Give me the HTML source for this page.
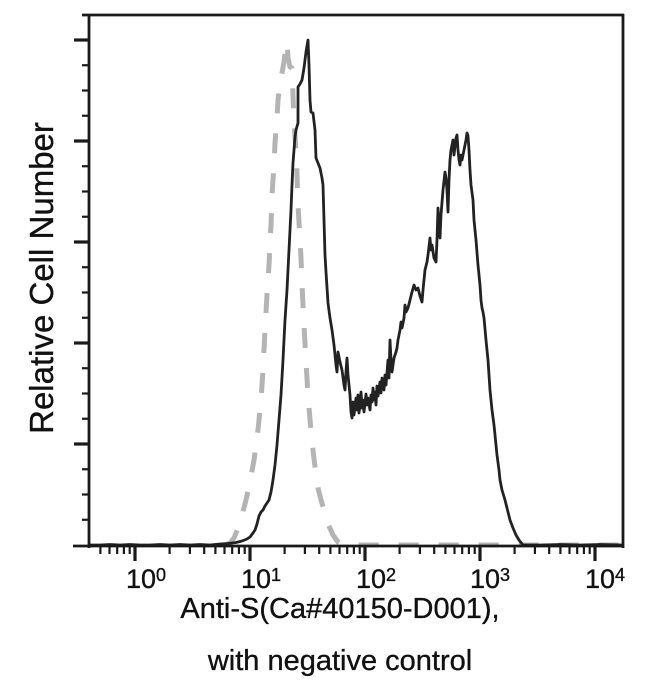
<!DOCTYPE html>
<html>
<head>
<meta charset="utf-8">
<style>
html,body{margin:0;padding:0;background:#fff;}
svg{display:block;}
text{font-family:"Liberation Sans",Arial,sans-serif;fill:#111;stroke:#111;stroke-width:0.35;}
</style>
</head>
<body>
<svg width="650" height="680" viewBox="0 0 650 680" xmlns="http://www.w3.org/2000/svg">
<rect x="0" y="0" width="650" height="680" fill="#fff"/>

<!-- gray dashed negative control -->
<path fill="none" stroke="#b4b4b4" stroke-width="5" stroke-dasharray="20 20" stroke-linejoin="round"
d="M225,545 L230,543 L234,538 L238,528 L242,515 L246,500 L250,482 L254,460 L258,430 L261,400 L263,370 L265,330 L267,295 L269,265 L271,225 L272,195 L274,165 L275,143 L277,118 L278,100 L280,85 L282,73 L284,62 L286,45 L287,42 L288,58 L290,67 L292,68 L293,95 L294,122 L296,150 L297,175 L298,205 L300,240 L301,258 L302,285 L304,325 L306,362 L308,395 L310,420 L313,450 L316,475 L318,488 L321,500 L324,510 L328,524 L333,535 L338,542 L344,545 L622,545"/>

<!-- black sample histogram -->
<path fill="none" stroke="#222" stroke-width="2.8" stroke-linejoin="round"
d="M90,545 L100,545 L110,544.5 L120,545 L130,544.5 L140,545 L150,545 L160,544.5 L170,545 L180,544.5 L190,545 L200,544.5 L210,545 L220,544 L228,543.5 L236,542.5 L242,541 L247,539 L250,537 L253,533 L255,530 L257,524 L259,516 L261,512 L263,510 L265,506 L267,503 L269,500 L271,492 L273,480 L275,465 L277,445 L279,420 L281,395 L283,360 L285,320 L287,290 L289,250 L291,210 L292,185 L293,163 L294,150 L295,137 L296,130 L298,123 L298,105 L298,87 L300,84 L302,80 L304,68 L306,52 L308,40 L309,65 L310,100 L311,112 L313,113 L315,130 L316,158 L318,163 L320,168 L322,178 L323,185 L324,220 L325,255 L326,272 L328,303
L330,318 L332,330 L334,345 L336,365 L337,372 L338,352 L340,362 L342,370 L344,385 L345,390 L346,372 L347,358 L348,375 L350,395 L351,412 L352,418 L353,402 L354,415 L356,398 L357,410 L358,395 L359,413 L360,405 L361,392 L362,408 L363,400 L364,412 L366,394 L367,405 L368,398 L370,410 L371,395 L372,402 L373,388 L374,400 L375,392 L376,405 L377,386 L378,396 L380,382 L381,393 L382,378 L384,390 L385,375 L386,385 L388,360 L389,378 L390,340 L391,360 L392,372 L394,358 L396,352 L397,348 L398,340 L400,330 L401,322 L402,328 L404,318 L405,305 L406,312 L408,308 L410,300 L412,292 L414,285 L416,290 L418,288 L420,296 L422,302 L423,290 L425,270 L427,262 L428,255 L430,238 L431,250 L432,245 L434,258 L436,262 L437,240 L438,208 L439,228 L440,238 L441,215 L443,190 L445,172 L446,178 L447,190 L448,212 L449,180 L450,160 L451,150 L452,145 L453,140 L454,155 L456,138 L457,135 L458,150 L459,160 L460,165 L461,155 L462,160 L464,150 L466,140 L467,133 L468,136 L469,150 L470,170 L471,185 L473,200 L474,220 L475,230 L476,240 L478,265 L480,285 L481,300 L482,308 L483,312 L484,318 L486,340 L488,360 L490,390 L492,410 L494,425 L495,435 L497,455 L499,470 L500,480 L502,490 L505,500 L508,512 L510,520 L513,528 L516,535 L519,540 L523,545 L540,545 L560,544.5 L580,545 L600,544.5 L622,545"/>

<!-- frame -->
<g stroke="#1a1a1a" stroke-width="2.8" fill="none">
<line x1="82" y1="15" x2="624" y2="15"/>
<line x1="89" y1="14" x2="89" y2="548"/>
<line x1="623" y1="14" x2="623" y2="548"/>
<line x1="73" y1="546" x2="624" y2="546"/>
</g>

<!-- y ticks -->
<g stroke="#1a1a1a" stroke-width="3.2">
<line x1="74" y1="40" x2="89" y2="40"/>
<line x1="74" y1="141" x2="89" y2="141"/>
<line x1="74" y1="242" x2="89" y2="242"/>
<line x1="74" y1="343" x2="89" y2="343"/>
<line x1="74" y1="444" x2="89" y2="444"/>
</g>
<g stroke="#1a1a1a" stroke-width="2.2">
<line x1="82" y1="65.25" x2="89" y2="65.25"/>
<line x1="82" y1="90.5" x2="89" y2="90.5"/>
<line x1="82" y1="115.75" x2="89" y2="115.75"/>
<line x1="82" y1="166.25" x2="89" y2="166.25"/>
<line x1="82" y1="191.5" x2="89" y2="191.5"/>
<line x1="82" y1="216.75" x2="89" y2="216.75"/>
<line x1="82" y1="267.25" x2="89" y2="267.25"/>
<line x1="82" y1="292.5" x2="89" y2="292.5"/>
<line x1="82" y1="317.75" x2="89" y2="317.75"/>
<line x1="82" y1="368.25" x2="89" y2="368.25"/>
<line x1="82" y1="393.5" x2="89" y2="393.5"/>
<line x1="82" y1="418.75" x2="89" y2="418.75"/>
<line x1="82" y1="469.25" x2="89" y2="469.25"/>
<line x1="82" y1="494.5" x2="89" y2="494.5"/>
<line x1="82" y1="519.75" x2="89" y2="519.75"/>
</g>

<!-- x ticks -->
<g stroke="#1a1a1a" stroke-width="3.2">
<line x1="135" y1="547" x2="135" y2="561"/>
<line x1="250" y1="547" x2="250" y2="561"/>
<line x1="365" y1="547" x2="365" y2="561"/>
<line x1="480" y1="547" x2="480" y2="561"/>
<line x1="595" y1="547" x2="595" y2="561"/>
</g>
<g stroke="#1a1a1a" stroke-width="2.2">
<line x1="100.4" y1="547" x2="100.4" y2="554"/>
<line x1="109.5" y1="547" x2="109.5" y2="554"/>
<line x1="117.2" y1="547" x2="117.2" y2="554"/>
<line x1="123.9" y1="547" x2="123.9" y2="554"/>
<line x1="129.7" y1="547" x2="129.7" y2="554"/>

<line x1="169.6" y1="547" x2="169.6" y2="554"/>
<line x1="189.9" y1="547" x2="189.9" y2="554"/>
<line x1="204.2" y1="547" x2="204.2" y2="554"/>
<line x1="215.4" y1="547" x2="215.4" y2="554"/>
<line x1="224.5" y1="547" x2="224.5" y2="554"/>
<line x1="232.2" y1="547" x2="232.2" y2="554"/>
<line x1="238.9" y1="547" x2="238.9" y2="554"/>
<line x1="244.7" y1="547" x2="244.7" y2="554"/>

<line x1="284.6" y1="547" x2="284.6" y2="554"/>
<line x1="304.9" y1="547" x2="304.9" y2="554"/>
<line x1="319.2" y1="547" x2="319.2" y2="554"/>
<line x1="330.4" y1="547" x2="330.4" y2="554"/>
<line x1="339.5" y1="547" x2="339.5" y2="554"/>
<line x1="347.2" y1="547" x2="347.2" y2="554"/>
<line x1="353.9" y1="547" x2="353.9" y2="554"/>
<line x1="359.7" y1="547" x2="359.7" y2="554"/>

<line x1="399.6" y1="547" x2="399.6" y2="554"/>
<line x1="419.9" y1="547" x2="419.9" y2="554"/>
<line x1="434.2" y1="547" x2="434.2" y2="554"/>
<line x1="445.4" y1="547" x2="445.4" y2="554"/>
<line x1="454.5" y1="547" x2="454.5" y2="554"/>
<line x1="462.2" y1="547" x2="462.2" y2="554"/>
<line x1="468.9" y1="547" x2="468.9" y2="554"/>
<line x1="474.7" y1="547" x2="474.7" y2="554"/>

<line x1="514.6" y1="547" x2="514.6" y2="554"/>
<line x1="534.9" y1="547" x2="534.9" y2="554"/>
<line x1="549.2" y1="547" x2="549.2" y2="554"/>
<line x1="560.4" y1="547" x2="560.4" y2="554"/>
<line x1="569.5" y1="547" x2="569.5" y2="554"/>
<line x1="577.2" y1="547" x2="577.2" y2="554"/>
<line x1="583.9" y1="547" x2="583.9" y2="554"/>
<line x1="589.7" y1="547" x2="589.7" y2="554"/>
</g>

<!-- x tick labels -->
<g font-size="27">
<text x="126" y="588">10<tspan font-size="18" dy="-7">0</tspan></text>
<text x="241" y="588">10<tspan font-size="18" dy="-7">1</tspan></text>
<text x="356" y="588">10<tspan font-size="18" dy="-7">2</tspan></text>
<text x="470" y="588">10<tspan font-size="18" dy="-7">3</tspan></text>
<text x="585" y="588">10<tspan font-size="18" dy="-7">4</tspan></text>
</g>

<!-- axis titles -->
<text x="340" y="618" font-size="29" text-anchor="middle">Anti-S(Ca#40150-D001),</text>
<text x="340" y="670" font-size="29" text-anchor="middle">with negative control</text>
<text transform="translate(53,278) rotate(-90)" font-size="33" text-anchor="middle">Relative Cell Number</text>
</svg>
</body>
</html>
